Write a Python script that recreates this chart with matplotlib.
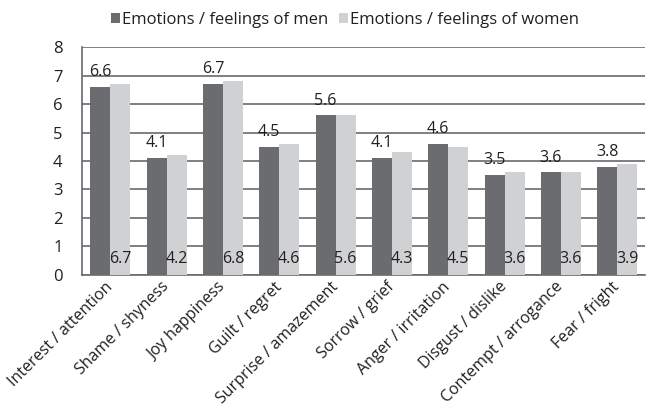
import numpy as np
import matplotlib
matplotlib.use("Agg")
import matplotlib.pyplot as plt
import matplotlib.transforms as mtransforms

categories = ["Interest / attention", "Shame / shyness", "Joy happiness",
              "Guilt / regret", "Surprise / amazement", "Sorrow / grief",
              "Anger / irritation", "Disgust / dislike", "Contempt / arrogance",
              "Fear / fright"]
men = [6.6, 4.1, 6.7, 4.5, 5.6, 4.1, 4.6, 3.5, 3.6, 3.8]
women = [6.7, 4.2, 6.8, 4.6, 5.6, 4.3, 4.5, 3.6, 3.6, 3.9]
series_names = ["Emotions / feelings of men", "Emotions / feelings of women"]

plt.rcParams['font.family'] = ['Open Sans', 'DejaVu Sans']
text_col = '#231f20'

fig = plt.figure(figsize=(6.46, 4.17), dpi=100)
ax = fig.add_axes([0.127, 0.341, 0.872, 0.546])

x = np.arange(len(categories))
w = 0.355
b1 = ax.bar(x - w/2, men, w, color='#6b6c70', label=series_names[0], zorder=3)
b2 = ax.bar(x + w/2, women, w, color='#d0d1d3', label=series_names[1], zorder=3)

# men values above bars, women values near the bottom
for xi, v in zip(x, men):
    ax.text(xi - w/2, v + 0.38, f"{v:.1f}", ha='center', va='baseline',
            fontsize=11.5, color=text_col, zorder=4)
for xi, v in zip(x, women):
    ax.text(xi + w/2, 0.56, f"{v:.1f}", ha='center', va='center',
            fontsize=11.5, color=text_col, zorder=4)

ax.set_xlim(-0.5, len(categories) - 0.5)
ax.set_ylim(0, 8)
ax.set_yticks(range(9))
ax.yaxis.grid(True, color='#6a6a6c', linewidth=1.2, zorder=0)
ax.set_axisbelow(True)
for s in ['top', 'right']:
    ax.spines[s].set_visible(False)
for s in ['left', 'bottom']:
    ax.spines[s].set_color('#6a6a6c')
    ax.spines[s].set_linewidth(1.2)

ax.set_xticks(x)
ax.set_xticklabels(categories, rotation=45, ha='right', va='center',
                   rotation_mode='anchor', fontsize=11.5, color=text_col)
shift = mtransforms.ScaledTranslation(6 / 100, 0, fig.dpi_scale_trans)
for lab in ax.get_xticklabels():
    lab.set_transform(lab.get_transform() + shift)
ax.tick_params(axis='x', length=0, pad=7)
ax.tick_params(axis='y', length=0, pad=14, labelsize=12, labelcolor=text_col)

fig.legend(handles=[b1, b2], loc='center', bbox_to_anchor=(0.534, 0.952), ncol=2,
           frameon=False, fontsize=12, handlelength=0.55, handleheight=0.55,
           handletextpad=0.15, columnspacing=0.6, labelcolor=text_col)

fig.savefig("out.png", dpi=100)
